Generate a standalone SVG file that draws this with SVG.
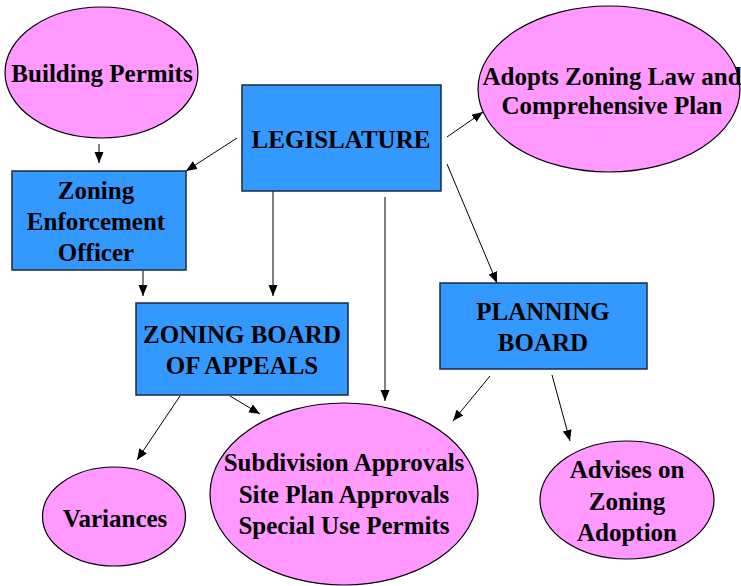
<svg xmlns="http://www.w3.org/2000/svg" width="741" height="586" viewBox="0 0 741 586">
<style>
.box{fill:#3399ff;stroke:#1c2a44;stroke-width:1.5}
.ell{fill:#ff99ff;stroke:#000;stroke-width:1.2}
.t{font-family:"Liberation Serif","Times New Roman",serif;font-weight:bold;font-size:25px;fill:#000;text-anchor:middle}
.c{stroke:#000;stroke-width:1;fill:none;marker-end:url(#ah)}
</style>
<defs>
<marker id="ah" markerUnits="userSpaceOnUse" markerWidth="12" markerHeight="10" refX="11" refY="4.5" orient="auto">
<path d="M0,0 L11,4.5 L0,9 Z" fill="#000"/>
</marker>
</defs>
<g id="connectors">
<line class="c" x1="99" y1="144" x2="99" y2="163"/>
<line class="c" x1="237" y1="138" x2="186" y2="171"/>
<line class="c" x1="143" y1="270" x2="143" y2="296"/>
<line class="c" x1="273" y1="191" x2="273" y2="296"/>
<line class="c" x1="385" y1="197" x2="385" y2="401"/>
<line class="c" x1="447" y1="137" x2="483" y2="112"/>
<line class="c" x1="447" y1="164" x2="497" y2="283"/>
<line class="c" x1="180" y1="396" x2="137" y2="460"/>
<line class="c" x1="230" y1="396" x2="260" y2="414"/>
<line class="c" x1="490" y1="376" x2="453" y2="421"/>
<line class="c" x1="552" y1="375" x2="570" y2="441"/>
</g>
<g id="building-permits">
<ellipse class="ell" cx="101.5" cy="72.5" rx="96.5" ry="65.5"/>
<text class="t" x="102" y="82">Building Permits</text>
</g>
<g id="legislature">
<rect class="box" x="242" y="85" width="199" height="106"/>
<text class="t" x="341" y="148">LEGISLATURE</text>
</g>
<g id="adopts">
<ellipse class="ell" cx="609" cy="89" rx="131" ry="83"/>
<text class="t" x="612" y="85">Adopts Zoning Law and</text>
<text class="t" x="612" y="114">Comprehensive Plan</text>
</g>
<g id="zoning-enforcement-officer">
<rect class="box" x="12" y="171" width="174" height="99"/>
<text class="t" x="96" y="199">Zoning</text>
<text class="t" x="96" y="230">Enforcement</text>
<text class="t" x="96" y="261">Officer</text>
</g>
<g id="zoning-board-of-appeals">
<rect class="box" x="136" y="303" width="212" height="92"/>
<text class="t" x="242" y="343">ZONING BOARD</text>
<text class="t" x="242" y="374">OF APPEALS</text>
</g>
<g id="planning-board">
<rect class="box" x="440" y="283" width="207" height="86"/>
<text class="t" x="543" y="320">PLANNING</text>
<text class="t" x="543" y="351">BOARD</text>
</g>
<g id="variances">
<ellipse class="ell" cx="114" cy="516.5" rx="71.5" ry="49.5"/>
<text class="t" x="115" y="527">Variances</text>
</g>
<g id="approvals">
<ellipse class="ell" cx="344" cy="494" rx="134" ry="91"/>
<text class="t" x="344" y="471">Subdivision Approvals</text>
<text class="t" x="344" y="503">Site Plan Approvals</text>
<text class="t" x="344" y="534">Special Use Permits</text>
</g>
<g id="advises">
<ellipse class="ell" cx="627" cy="500" rx="87" ry="59"/>
<text class="t" x="627" y="478">Advises on</text>
<text class="t" x="627" y="510">Zoning</text>
<text class="t" x="627" y="541">Adoption</text>
</g>
</svg>
